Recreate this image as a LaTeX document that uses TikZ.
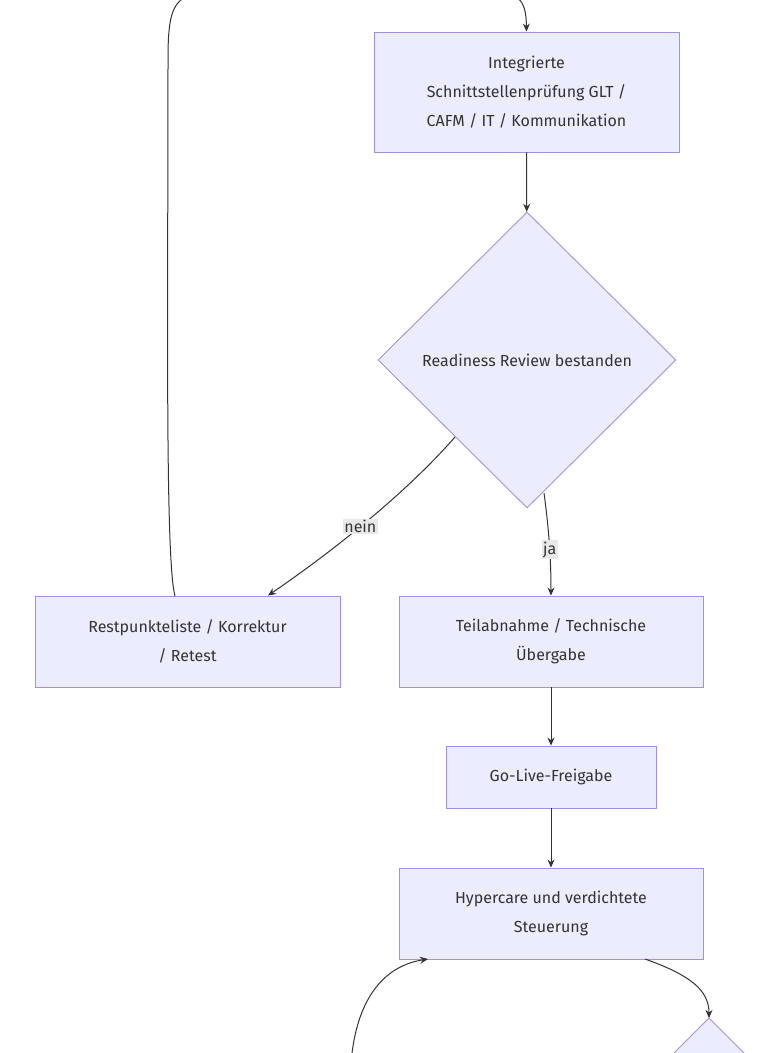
\documentclass[tikz,border=0pt]{standalone}
\usepackage{fontspec}
\setmainfont{Fira Sans}
\usetikzlibrary{shapes.geometric,arrows.meta}
\definecolor{nfill}{HTML}{ECECFF}
\definecolor{nstroke}{HTML}{A58FE0}
\definecolor{ntext}{HTML}{333333}
\definecolor{lbl}{HTML}{E8E8E8}
\begin{document}
\begin{tikzpicture}[x=1pt,y=-1pt,
  box/.style={draw=nstroke,fill=nfill,line width=0.9pt,text=ntext,align=center,inner sep=0pt,font=\fontsize{16}{29}\selectfont},
  conn/.style={draw=ntext,line width=1pt,-{Stealth[length=8pt,width=7pt]}},
  elabel/.style={fill=lbl,text=ntext,inner sep=1.5pt,font=\fontsize{16}{19}\selectfont}]
\useasboundingbox (0,0) rectangle (769,1053);
\node[box,minimum width=305pt,minimum height=120pt] (b1) at (526.5,92) {Integrierte\\Schnittstellenprüfung GLT /\\CAFM / IT / Kommunikation};
\node[box,shape=diamond,minimum width=298pt,minimum height=296pt] (d1) at (527,360) {Readiness Review bestanden};
\node[box,minimum width=305pt,minimum height=91pt] (b2) at (187.5,641.5) {Restpunkteliste / Korrektur\\/ Retest};
\node[box,minimum width=304pt,minimum height=91pt] (b3) at (551,641.5) {Teilabnahme / Technische\\Übergabe};
\node[box,minimum width=210pt,minimum height=62pt] (b4) at (551,777) {Go-Live-Freigabe};
\node[box,minimum width=304pt,minimum height=91pt] (b5) at (551,913.5) {Hypercare und verdichtete\\Steuerung};
\coordinate (top) at (520,0);
\coordinate (rtop) at (175,596);
\coordinate (bot) at (352,1053);
\coordinate (d2) at (709,1018);
\draw[box] (d2) -- (760,1069) -- (658,1069) -- cycle;
\draw[conn] (b1) -- (d1);
\draw[conn] (455,437) .. controls (400,500) and (320,560) .. (b2.north -| 268,0) node[pos=0.5,elabel] {nein};
\draw[conn] (544,493) .. controls (549,530) and (551,560) .. (b3.north) node[pos=0.55,elabel] {ja};
\draw[conn] (b3) -- (b4);
\draw[conn] (b4) -- (b5);
\draw[conn] (rtop) .. controls (165,560) and (168,300) .. (168,60) .. controls (168,-20) and (180,-10) .. (300,-10) -- (480,-10) .. controls (520,-10) and (526,0) .. (b1.north);
\draw[conn] (bot) .. controls (360,990) and (390,965) .. (428,959);
\draw[conn] (645,959) .. controls (690,975) and (709,990) .. (d2);
\end{tikzpicture}
\end{document}
